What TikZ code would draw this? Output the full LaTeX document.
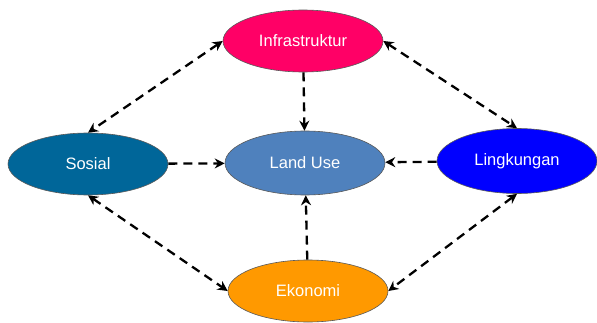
\documentclass[tikz,border=0pt]{standalone}
\usepackage{fontspec}
\setmainfont{Liberation Sans}
\usepackage{xcolor}
\usetikzlibrary{arrows.meta,shapes.geometric}
\definecolor{infracol}{RGB}{255,0,102}
\definecolor{sosialcol}{RGB}{0,102,153}
\definecolor{landcol}{RGB}{79,129,189}
\definecolor{lingkcol}{RGB}{0,0,255}
\definecolor{ekocol}{RGB}{255,153,0}
\tikzset{
  bubble/.style={ellipse,draw=black!65,line width=0.6pt,minimum width=160pt,
    minimum height=62pt,inner sep=0pt,text=white,font=\fontsize{16.5}{19}\selectfont},
  link/.style={dashed,dash pattern=on 9pt off 6pt,line width=2.3pt,
    -{Stealth[length=10pt,width=10pt]}},
  twolink/.style={link,{Stealth[length=10pt,width=10pt]}-{Stealth[length=10pt,width=10pt]}}}

\begin{document}
\begin{tikzpicture}[x=1pt,y=1pt]
    \useasboundingbox (0,0) rectangle (597,322);
    % the five bubbles
    \node[bubble,fill=infracol] (infra) at (303,281) {Infrastruktur};
    \node[bubble,fill=sosialcol] (sosial) at (88,158) {Sosial};
    \node[bubble,fill=landcol,minimum height=64pt] (landuse) at (305,159) {Land Use};
    \node[bubble,fill=lingkcol,minimum height=65pt] (lingk) at (517,161) {Lingkungan};
    \node[bubble,fill=ekocol] (ekonomi) at (308,31) {Ekonomi};
    % into land use
    \draw[link] (infra) -- (landuse);
    \draw[link] (sosial) -- (landuse);
    \draw[link] (lingk) -- (landuse);
    \draw[link] (ekonomi) -- (landuse);
    % round the outside
    \draw[twolink] (infra.west) -- (sosial.north);
    \draw[twolink] (infra.east) -- (lingk.north);
    \draw[twolink] (sosial.south) -- (ekonomi.west);
    \draw[twolink] (lingk.south) -- (ekonomi.east);
  \end{tikzpicture}
\end{document}
